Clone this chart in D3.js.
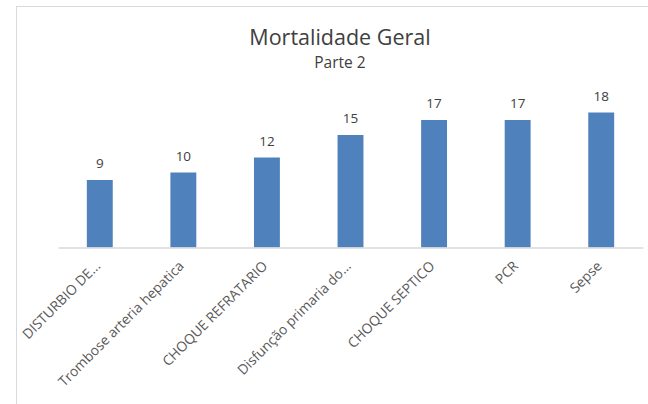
<!DOCTYPE html>
<html><head><meta charset="utf-8">
<script src="https://cdn.jsdelivr.net/npm/d3@7"></script>
<style>body{margin:0;background:#fff}svg{display:block}</style>
</head><body>
<script>
const categories = ["DISTURBIO DE...", "Trombose arteria hepatica", "CHOQUE REFRATARIO", "Disfunção primaria do...", "CHOQUE SEPTICO", "PCR", "Sepse"];
const values = [9, 10, 12, 15, 17, 17, 18];
const title = "Mortalidade Geral";
const subtitle = "Parte 2";

const W = 648, H = 404;
const font = "'Open Sans', sans-serif";
const svg = d3.select("body").append("svg").attr("width", W).attr("height", H);

svg.append("rect").attr("x", 16.5).attr("y", 6.5).attr("width", 700).attr("height", 500)
  .attr("fill", "#fff").attr("stroke", "#d9d9d9");

const x = d3.scaleBand().domain(categories).range([58, 643]).paddingInner(0.69).paddingOuter(0.345);
const y = d3.scaleLinear().domain([0, 20]).range([247.5, 97.5]);

svg.append("text").attr("x", 340).attr("y", 45).attr("text-anchor", "middle")
  .attr("font-family", font).attr("font-size", 21.5).attr("fill", "#404040").text(title);
svg.append("text").attr("x", 340).attr("y", 68).attr("text-anchor", "middle")
  .attr("font-family", font).attr("font-size", 15.5).attr("fill", "#404040").text(subtitle);

svg.selectAll("rect.bar").data(values).join("rect").attr("class", "bar")
  .attr("x", (d, i) => x(categories[i])).attr("width", x.bandwidth())
  .attr("y", d => y(d)).attr("height", d => y(0) - y(d)).attr("fill", "#4f81bd");

svg.selectAll("text.val").data(values).join("text").attr("class", "val")
  .attr("x", (d, i) => x(categories[i]) + x.bandwidth() / 2).attr("y", d => y(d) - 12)
  .attr("text-anchor", "middle").attr("font-family", font).attr("font-size", 13.5).attr("fill", "#404040").text(d => d);

const axis = svg.append("g").attr("transform", `translate(0,${y(0)})`)
  .call(d3.axisBottom(x).tickSize(0).tickPadding(0));
axis.select(".domain").attr("stroke", "#d9d9d9").attr("stroke-width", 1.5);
axis.selectAll("text").attr("font-family", font).attr("font-size", 13.8).attr("fill", "#595959")
  .attr("text-anchor", "end").attr("dy", "0.35em")
  .attr("transform", "translate(-2,16) rotate(-45)");
</script>
</body></html>
